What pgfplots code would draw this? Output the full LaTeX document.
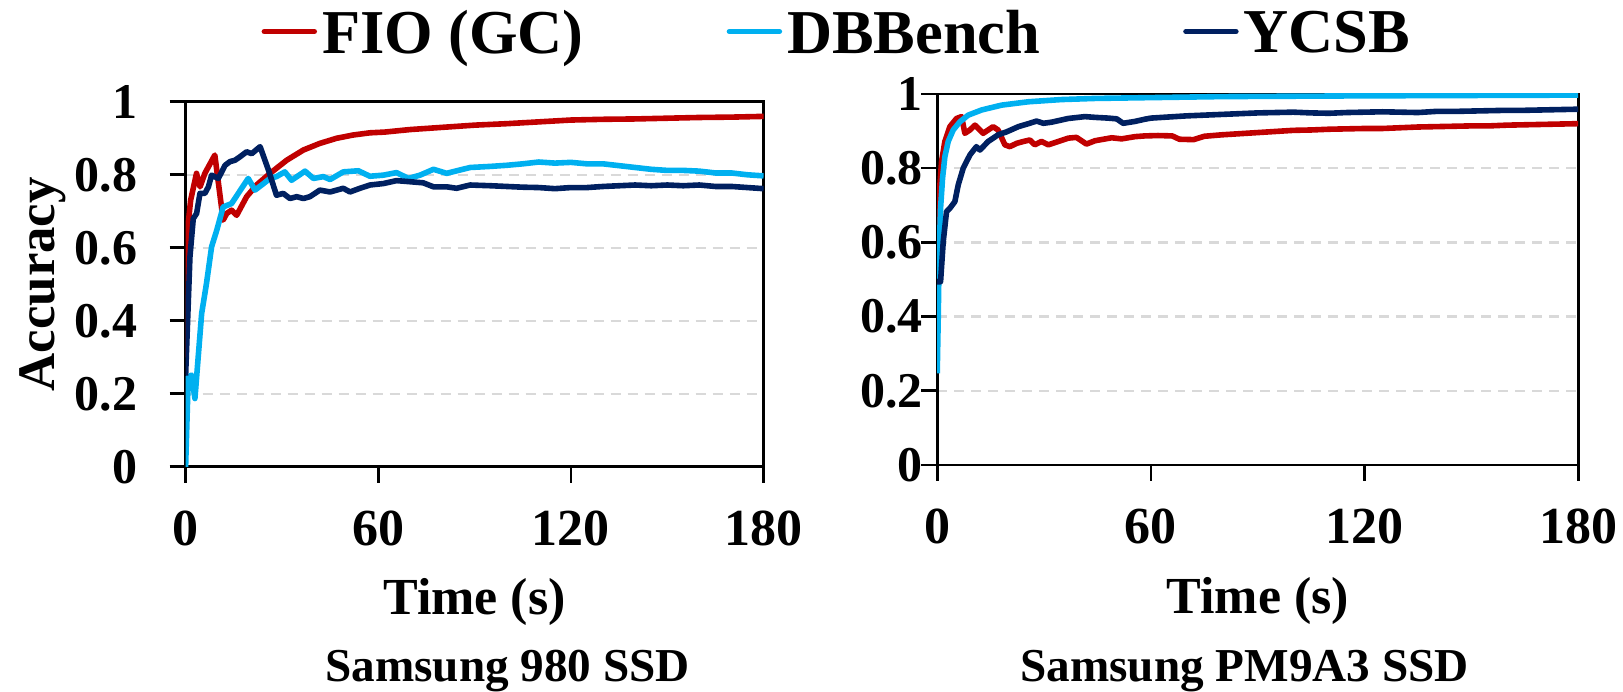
\documentclass[border=0pt]{standalone}
\usepackage{fontspec}
\setmainfont{Liberation Serif}
\usepackage{pgfplots}
\pgfplotsset{compat=1.18}
\definecolor{cred}{HTML}{C00000}
\definecolor{ccyan}{HTML}{00B0F0}
\definecolor{cnavy}{HTML}{002060}
\definecolor{cgrid}{HTML}{D9D9D9}
\pgfplotsset{
  myaxis/.style={
    scale only axis,
    xmin=0, xmax=180, ymin=0, ymax=1,
    xtick={0,60,120,180}, xticklabels={0,60,120,180},
    ytick={0,0.2,0.4,0.6,0.8,1}, yticklabels={0,0.2,0.4,0.6,0.8,1},
    tick align=outside, major tick length=4pt,
    xtick pos=bottom, ytick pos=left,
    axis line style={line width=0.65pt},
    every tick/.style={line width=0.65pt, black},
    ymajorgrids,
    grid style={cgrid, line width=0.6pt, dash pattern=on 2.5pt off 1.75pt},
    xticklabel style={font=\bfseries\fontsize{13}{13}\selectfont, anchor=north, inner sep=0pt, yshift=-6.75pt},
    yticklabel style={font=\bfseries\fontsize{12.5}{12.5}\selectfont, anchor=east, inner sep=0pt, xshift=-7.9pt},
    xlabel style={font=\bfseries\fontsize{13}{13}\selectfont, at={(axis description cs:0.5,0)}, anchor=base, inner sep=0pt, yshift=-37pt},
    every axis plot/.append style={line width=1.4pt, no markers, line join=round},
    legend image code/.code={\draw[line width=1.3pt, line cap=round] (0.6pt,0.8pt) -- (13.15pt,0.8pt);},
  }
}
\begin{document}
\begin{tikzpicture}
\useasboundingbox (0pt,0pt) rectangle (405.75pt,-173pt);
% Left axis: Samsung 980 SSD
\begin{axis}[myaxis,
  at={(46.4pt,-116.7pt)}, anchor=south west,
  width=144.5pt, height=91.25pt,
  xlabel={Time (s)},
  ylabel={Accuracy},
  ylabel style={font=\bfseries\fontsize{13.2}{13.2}\selectfont, at={(axis description cs:-0.2261,0.5)}, anchor=base, inner sep=0pt},
  legend columns=3,
  legend style={draw=none, fill=none, inner sep=0pt, outer sep=0pt,
    at={(axis description cs:0.1315,1.2512)}, anchor=north west,
    font=\bfseries\fontsize{15.6}{15.6}\selectfont,
    nodes={inner sep=0pt},
    /tikz/every odd column/.append style={column sep=1.25pt},
    /tikz/every even column/.append style={column sep=35.75pt}},
]
\addplot[cred] coordinates {(0,0.30)(0.83,0.667)(1.56,0.73)(3.4,0.804)(4.5,0.767)(6.0,0.804)(9.1,0.854)(11.7,0.676)(12.8,0.694)(14.3,0.703)(15.9,0.689)(19,0.74)(22.1,0.772)(26.3,0.804)(31.5,0.84)(36.7,0.868)(41.8,0.886)(47,0.9)(52.2,0.909)(57.4,0.915)(62,0.917)(70,0.924)(80,0.93)(90,0.936)(100,0.94)(110,0.945)(120,0.95)(130,0.952)(140,0.953)(150,0.955)(160,0.957)(170,0.958)(180,0.96)};
\addlegendentry{FIO (GC)}
\addplot[ccyan] coordinates {(0,0)(0.83,0.247)(1.87,0.251)(2.9,0.187)(5.0,0.42)(6.5,0.502)(8.1,0.603)(9.7,0.648)(11.7,0.712)(14.3,0.721)(16.4,0.749)(19.5,0.79)(21.6,0.758)(23.7,0.772)(26.3,0.79)(28.3,0.795)(30.9,0.808)(33,0.785)(37.2,0.81)(39.8,0.79)(42.9,0.795)(45,0.787)(49.1,0.808)(53.8,0.811)(57.4,0.796)(61.6,0.799)(65.7,0.806)(69.4,0.79)(73,0.799)(77.2,0.815)(81.3,0.804)(88.6,0.82)(95,0.823)(100,0.826)(105,0.83)(110,0.835)(115,0.832)(120,0.834)(125,0.83)(130,0.83)(135,0.825)(140,0.82)(145,0.815)(150,0.812)(155,0.812)(160,0.81)(165,0.805)(170,0.805)(175,0.8)(180,0.797)};
\addlegendentry{DBBench}
\addplot[cnavy] coordinates {(0,0.25)(1.35,0.575)(2.39,0.68)(3.43,0.694)(4.47,0.749)(6.0,0.749)(7.1,0.767)(8.1,0.799)(10.2,0.79)(12.3,0.826)(13.8,0.836)(15.4,0.84)(16.9,0.849)(19.0,0.863)(20.6,0.858)(23.2,0.877)(25.8,0.813)(28.3,0.744)(30.4,0.749)(32.5,0.735)(34.6,0.74)(36.7,0.735)(38.7,0.74)(41.8,0.758)(45,0.753)(49.1,0.763)(51.2,0.753)(54.3,0.763)(57.4,0.772)(61.6,0.776)(65.7,0.784)(69.9,0.781)(74,0.778)(77.2,0.767)(81.3,0.767)(84.4,0.763)(88.6,0.772)(95,0.77)(100,0.768)(105,0.766)(110,0.765)(115,0.762)(120,0.765)(125,0.765)(130,0.768)(135,0.77)(140,0.772)(145,0.77)(150,0.772)(155,0.77)(160,0.772)(165,0.768)(170,0.768)(175,0.765)(180,0.762)};
\addlegendentry{YCSB}
\end{axis}
% Right axis: Samsung PM9A3 SSD
\begin{axis}[myaxis,
  at={(234.3pt,-116.25pt)}, anchor=south west,
  width=160.25pt, height=92.75pt,
  xlabel={Time (s)},
  yticklabel style={xshift=8.5pt},
]
\addplot[cred] coordinates {(0,0.5)(0.56,0.728)(1.22,0.818)(2.15,0.872)(3.56,0.912)(5.43,0.934)(6.84,0.939)(7.77,0.894)(9.18,0.903)(10.6,0.916)(12.9,0.894)(15.7,0.912)(17.1,0.903)(19,0.863)(20.4,0.858)(22.3,0.867)(24.2,0.872)(26,0.876)(27.4,0.863)(29.3,0.872)(31.2,0.863)(34,0.872)(36.8,0.881)(39.1,0.883)(41.9,0.865)(44.3,0.874)(49,0.882)(51.8,0.879)(55.5,0.885)(58.3,0.887)(62,0.888)(66,0.887)(68,0.878)(72,0.877)(75,0.886)(80,0.89)(85,0.893)(90,0.896)(95,0.899)(100,0.902)(105,0.903)(110,0.905)(115,0.906)(120,0.907)(125,0.907)(130,0.909)(135,0.911)(140,0.912)(145,0.913)(150,0.914)(155,0.914)(160,0.916)(165,0.917)(170,0.918)(175,0.919)(180,0.92)};
\addplot[ccyan] coordinates {(0,0.247)(0.28,0.395)(0.56,0.575)(0.94,0.692)(1.5,0.773)(2.15,0.831)(3.09,0.872)(4.49,0.903)(6.37,0.925)(8.7,0.943)(12.5,0.957)(18.1,0.97)(25.6,0.979)(34.9,0.985)(44.3,0.988)(58.3,0.99)(80,0.993)(120,0.995)(150,0.996)(180,0.997)};
\addplot[cnavy] coordinates {(0,0.494)(0.94,0.494)(1.69,0.602)(2.62,0.683)(3.56,0.692)(4.96,0.71)(5.9,0.755)(7.3,0.8)(9.2,0.836)(11.0,0.858)(12.0,0.849)(14.3,0.872)(17.1,0.89)(19.5,0.898)(22.8,0.912)(25.6,0.92)(27.9,0.927)(29.8,0.921)(32.1,0.924)(36.8,0.934)(41.5,0.939)(44.3,0.937)(48,0.935)(50.4,0.933)(52.2,0.921)(55.5,0.926)(58.3,0.932)(60,0.935)(65,0.938)(70,0.941)(75,0.943)(80,0.945)(85,0.947)(90,0.949)(95,0.95)(100,0.951)(105,0.949)(110,0.948)(115,0.95)(120,0.951)(125,0.952)(130,0.951)(135,0.95)(140,0.953)(145,0.953)(150,0.954)(155,0.955)(160,0.956)(165,0.956)(170,0.957)(175,0.958)(180,0.959)};
\end{axis}
\node[anchor=base, font=\bfseries\fontsize{11.8}{11.8}\selectfont, inner sep=0pt] at (126.9pt,-170.4pt) {Samsung 980 SSD};
\node[anchor=base, font=\bfseries\fontsize{11.8}{11.8}\selectfont, inner sep=0pt] at (311.15pt,-170.4pt) {Samsung PM9A3 SSD};
\end{tikzpicture}
\end{document}
